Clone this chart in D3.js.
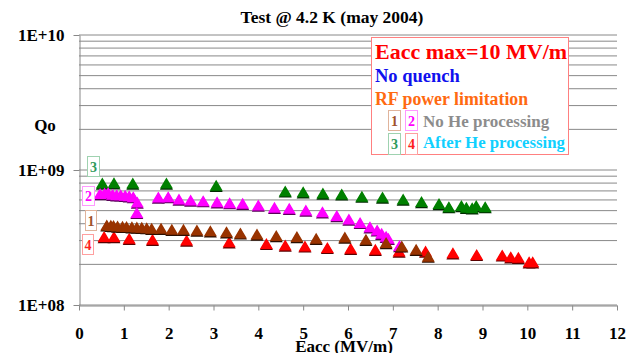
<!DOCTYPE html>
<html lang="en">
<head>
<meta charset="UTF-8">
<title>Test @ 4.2 K</title>
<style>
  body { margin: 0; background: #fff; }
  text { font-family: "Liberation Serif", "DejaVu Serif", serif; font-weight: bold; }
</style>
</head>
<body>
<script src="https://d3js.org/d3.v7.min.js"></script>
<script>
// series 1 (brown) - no He processing
var eacc1 = [0.62, 0.71, 0.77, 0.86, 0.97, 1.06, 1.18, 1.29, 1.40, 1.51, 1.62, 1.83, 2.07, 2.33, 2.63, 2.93, 3.29, 3.60, 3.97, 4.40, 4.86, 5.29, 5.93, 6.40, 6.85, 7.20, 7.52, 7.79];
var qo1 = [3.92e8, 3.9e8, 3.88e8, 3.85e8, 3.83e8, 3.82e8, 3.8e8, 3.78e8, 3.76e8, 3.74e8, 3.7e8, 3.7e8, 3.64e8, 3.64e8, 3.59e8, 3.55e8, 3.49e8, 3.42e8, 3.36e8, 3.27e8, 3.21e8, 3.12e8, 3.19e8, 3.07e8, 2.9e8, 2.74e8, 2.59e8, 2.3e8];
// series 2 (magenta) - no He processing
var eacc2 = [0.47, 0.57, 0.65, 0.75, 0.84, 0.93, 1.03, 1.12, 1.21, 1.30, 1.29, 1.77, 1.99, 2.23, 2.49, 2.77, 3.08, 3.36, 3.65, 4.00, 4.36, 4.69, 5.06, 5.43, 5.75, 6.02, 6.27, 6.49, 6.65, 6.75, 6.85, 6.90, 7.15];
var qo2 = [6.7e8, 6.75e8, 6.8e8, 6.6e8, 6.55e8, 6.55e8, 6.5e8, 6.45e8, 6.35e8, 5.8e8, 4.85e8, 6.3e8, 6.35e8, 6.1e8, 6.0e8, 5.93e8, 5.82e8, 5.73e8, 5.67e8, 5.5e8, 5.3e8, 5.2e8, 5.06e8, 4.9e8, 4.6e8, 4.34e8, 4.09e8, 3.8e8, 3.6e8, 3.4e8, 3.23e8, 3.12e8, 2.76e8];
// series 3 (green) - after He processing
var eacc3 = [0.52, 0.78, 1.20, 1.95, 3.06, 4.60, 5.00, 5.44, 5.86, 6.31, 6.77, 7.23, 7.64, 8.03, 8.25, 8.53, 8.64, 8.77, 8.86, 9.06];
var qo3 = [8.0e8, 8.05e8, 8.0e8, 8.0e8, 7.7e8, 7.0e8, 6.9e8, 6.75e8, 6.65e8, 6.4e8, 6.3e8, 6.1e8, 5.85e8, 5.65e8, 5.35e8, 5.45e8, 5.3e8, 5.25e8, 5.45e8, 5.35e8];
// series 4 (red) - after He processing
var eacc4 = [0.56, 0.78, 1.12, 1.64, 2.40, 3.35, 4.18, 4.60, 5.04, 5.54, 6.06, 6.61, 7.14, 7.73, 8.34, 8.87, 9.44, 9.63, 9.80, 10.04, 10.12];
var qo4 = [3.21e8, 3.21e8, 3.12e8, 3.07e8, 3.03e8, 2.94e8, 2.86e8, 2.78e8, 2.74e8, 2.67e8, 2.63e8, 2.59e8, 2.51e8, 2.51e8, 2.44e8, 2.37e8, 2.35e8, 2.28e8, 2.26e8, 2.09e8, 2.09e8];

var xTicks = [0, 1, 2, 3, 4, 5, 6, 7, 8, 9, 10, 11, 12];
var yTicks = [1e8, 1e9, 1e10];
var yTickLabels = ['1E+08', '1E+09', '1E+10'];

var W = 632, H = 353;
var svg = d3.select('body').append('svg').attr('width', W).attr('height', H);
svg.append('rect').attr('width', W).attr('height', H).attr('fill', '#fff');

var x = d3.scaleLinear().domain([0, 12]).range([79, 617]);
var y = d3.scaleLog().domain([1e8, 1e10]).range([305, 35]);

// grid lines (log minor)
svg.append('g').selectAll('line').data(y.ticks()).enter().append('line')
    .attr('x1', x(0)).attr('x2', x(12))
    .attr('y1', function (d) { return y(d); }).attr('y2', function (d) { return y(d); })
    .attr('stroke', '#888').attr('stroke-width', 1);

// axes
var gx = svg.append('g').attr('transform', 'translate(0,' + (y(1e8) + 0.5) + ')')
    .call(d3.axisBottom(x).tickValues(xTicks).tickSize(5).tickSizeOuter(0).tickFormat(d3.format('d')));
var gy = svg.append('g').attr('transform', 'translate(' + (x(0) + 0.5) + ',0)')
    .call(d3.axisLeft(y).tickValues(yTicks).tickSize(6).tickSizeOuter(0)
        .tickFormat(function (d, i) { return yTickLabels[i]; }));
[gx, gy].forEach(function (g) {
    g.attr('font-family', null).attr('font-size', null);
    g.select('.domain').attr('stroke', '#888');
    g.selectAll('.tick line').attr('stroke', '#888');
    g.selectAll('.tick text').attr('fill', '#000')
        .style('font-size', '17px').style('font-family', '"Liberation Serif", serif').style('font-weight', 'bold');
});
gx.selectAll('.tick text').attr('dy', null).attr('y', 33);
gy.selectAll('.tick text').attr('x', -15).attr('dy', '0.35em');

// titles
svg.append('text').attr('x', 332).attr('y', 23).attr('text-anchor', 'middle')
    .attr('font-size', 17.5).text('Test @ 4.2 K (may 2004)');
svg.append('text').attr('x', 45).attr('y', 131).attr('text-anchor', 'middle')
    .attr('font-size', 17).text('Qo');
svg.append('text').attr('x', 344).attr('y', 352).attr('text-anchor', 'middle')
    .attr('font-size', 17).text('Eacc (MV/m)');

// markers
var tri = 'M0,-5.5L6.5,5.5L-6.5,5.5Z';
var series = [
    { xs: eacc4, qs: qo4, color: '#ff0000', shadow: '#5a0000' },
    { xs: eacc3, qs: qo3, color: '#008000', shadow: '#002a00' },
    { xs: eacc2, qs: qo2, color: '#ff00ff', shadow: '#5a005a' },
    { xs: eacc1, qs: qo1, color: '#993300', shadow: '#2a0e00' }
];
series.forEach(function (s) {
    var pts = s.xs.map(function (v, i) { return [v, s.qs[i]]; });
    var g = svg.append('g');
    g.selectAll('path.sh').data(pts).enter().append('path')
        .attr('d', tri).attr('fill', s.shadow)
        .attr('transform', function (d) { return 'translate(' + x(d[0]) + ',' + (y(d[1]) + 1.2) + ')'; });
    g.selectAll('path.mk').data(pts).enter().append('path')
        .attr('d', tri).attr('fill', s.color)
        .attr('transform', function (d) { return 'translate(' + x(d[0]) + ',' + y(d[1]) + ')'; });
});

// series number boxes beside the curves
function numBox(bx, by, w, h, label, border, color) {
    svg.append('rect').attr('x', bx + 0.5).attr('y', by + 0.5).attr('width', w).attr('height', h)
        .attr('fill', '#fff').attr('stroke', border).attr('stroke-width', 1);
    svg.append('text').attr('x', bx + w / 2 + 0.5).attr('y', by + h / 2 + 5.5)
        .attr('text-anchor', 'middle').attr('font-size', 14).attr('fill', color).text(label);
}
numBox(87, 156, 12, 20, '3', '#9fd2b0', '#2f9a5c');
numBox(82, 186, 12, 19, '2', '#ff99ff', '#ff00ff');
numBox(85, 210, 11, 20, '1', '#e0b49c', '#a0522d');
numBox(82, 234, 11, 20, '4', '#ff9f9f', '#ff2020');

// legend box
svg.append('rect').attr('x', 371.5).attr('y', 37.5).attr('width', 197).attr('height', 117)
    .attr('fill', '#fff').attr('stroke', '#ff8080');
svg.append('text').attr('x', 375).attr('y', 59).attr('font-size', 22).attr('fill', '#ff0000').text('Eacc max=10 MV/m');
svg.append('text').attr('x', 375).attr('y', 82).attr('font-size', 18.5).attr('fill', '#1010ee').text('No quench');
svg.append('text').attr('x', 375).attr('y', 105).attr('font-size', 17.8).attr('fill', '#ff6a10').text('RF power limitation');
numBox(388, 110, 12, 20, '1', '#e0b49c', '#a0522d');
numBox(405, 110, 12, 20, '2', '#ff99ff', '#ff00ff');
numBox(388, 133, 12, 21, '3', '#9fd2b0', '#2f9a5c');
numBox(405, 133, 12, 21, '4', '#ff9f9f', '#ff2020');
svg.append('text').attr('x', 423).attr('y', 127).attr('font-size', 17).attr('fill', '#8c8c8c').text('No He processing');
svg.append('text').attr('x', 423).attr('y', 148).attr('font-size', 16.8).attr('fill', '#10d0ff').text('After He processing');
</script>
</body>
</html>
